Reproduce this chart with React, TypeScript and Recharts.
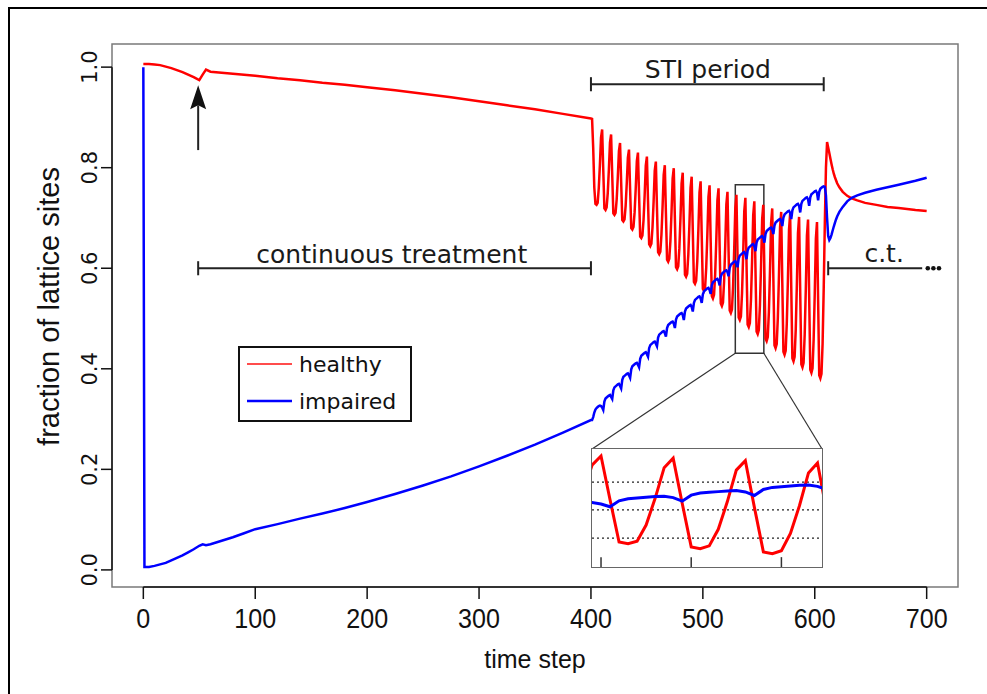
import React from 'react'
import { LineChart, Line, XAxis, YAxis, ReferenceLine, ReferenceArea, ReferenceDot, Legend } from 'recharts'

// continuous treatment phase, read at irregular time steps
const earlyTime = [0, 1, 5, 10, 15, 20, 25, 30, 35, 40, 45, 50, 53, 56, 60, 70, 80, 90, 100, 120, 140, 160, 180, 200, 225, 250, 275, 300, 325, 350, 375, 400]
const earlyHealthy = [1.006, 1.006, 1.006, 1.005, 1.004, 1.001, 0.998, 0.994, 0.99, 0.985, 0.98, 0.974, 0.985, 0.995, 0.991, 0.989, 0.987, 0.985, 0.983, 0.978, 0.974, 0.969, 0.965, 0.96, 0.954, 0.947, 0.94, 0.932, 0.924, 0.916, 0.907, 0.898]
const earlyImpaired = [1.0, 0.006, 0.006, 0.008, 0.011, 0.014, 0.019, 0.024, 0.029, 0.035, 0.041, 0.048, 0.051, 0.049, 0.051, 0.058, 0.065, 0.073, 0.081, 0.091, 0.102, 0.112, 0.123, 0.135, 0.151, 0.168, 0.186, 0.206, 0.227, 0.249, 0.273, 0.298]

// STI period, one value per time step from t = 401 to t = 620
const stiStart = 401
const stiHealthy = [
  0.897, 0.84, 0.76, 0.728, 0.726, 0.73, 0.76, 0.806, 0.86, 0.876,
  0.796, 0.719, 0.716, 0.721, 0.749, 0.796, 0.85, 0.866,
  0.786, 0.709, 0.706, 0.71, 0.737, 0.782, 0.833, 0.849,
  0.771, 0.696, 0.693, 0.697, 0.724, 0.769, 0.82, 0.836,
  0.757, 0.68, 0.677, 0.682, 0.711, 0.758, 0.813, 0.83,
  0.745, 0.663, 0.66, 0.665, 0.696, 0.746, 0.804, 0.822,
  0.733, 0.648, 0.644, 0.649, 0.681, 0.733, 0.794, 0.812,
  0.72, 0.632, 0.628, 0.633, 0.667, 0.722, 0.786, 0.805,
  0.709, 0.617, 0.613, 0.619, 0.654, 0.712, 0.779, 0.799,
  0.699, 0.602, 0.598, 0.604, 0.64, 0.7, 0.769, 0.79,
  0.687, 0.587, 0.583, 0.589, 0.627, 0.688, 0.76, 0.782,
  0.676, 0.573, 0.569, 0.575, 0.614, 0.677, 0.751, 0.773,
  0.664, 0.559, 0.555, 0.561, 0.601, 0.666, 0.742, 0.765,
  0.653, 0.545, 0.54, 0.547, 0.588, 0.656, 0.735, 0.759,
  0.642, 0.53, 0.525, 0.532, 0.575, 0.645, 0.727, 0.752,
  0.632, 0.516, 0.511, 0.518, 0.563, 0.636, 0.72, 0.746,
  0.622, 0.502, 0.497, 0.504, 0.55, 0.626, 0.713, 0.74,
  0.612, 0.488, 0.483, 0.491, 0.538, 0.616, 0.706, 0.733,
  0.601, 0.474, 0.469, 0.477, 0.526, 0.605, 0.698, 0.726,
  0.591, 0.46, 0.455, 0.463, 0.513, 0.595, 0.69, 0.719,
  0.58, 0.447, 0.441, 0.449, 0.501, 0.585, 0.682, 0.712,
  0.57, 0.434, 0.428, 0.436, 0.49, 0.576, 0.677, 0.708,
  0.562, 0.421, 0.415, 0.424, 0.478, 0.567, 0.67, 0.702,
  0.553, 0.409, 0.403, 0.412, 0.468, 0.559, 0.665, 0.697,
  0.545, 0.398, 0.392, 0.401, 0.458, 0.551, 0.659, 0.692,
  0.537, 0.387, 0.381, 0.39, 0.45, 0.56, 0.69, 0.8, 0.851,
  0.84, 0.829, 0.818, 0.807, 0.797, 0.788, 0.781, 0.775, 0.769,
]
const stiImpaired = [
  0.298, 0.304, 0.313, 0.319, 0.322, 0.324, 0.326, 0.327, 0.326, 0.323,
  0.318, 0.335, 0.341, 0.343, 0.345, 0.347, 0.348, 0.344,
  0.34, 0.357, 0.363, 0.365, 0.367, 0.369, 0.37, 0.366,
  0.361, 0.378, 0.384, 0.386, 0.388, 0.39, 0.391, 0.387,
  0.382, 0.399, 0.405, 0.407, 0.409, 0.411, 0.412, 0.408,
  0.403, 0.42, 0.426, 0.428, 0.43, 0.432, 0.433, 0.429,
  0.424, 0.441, 0.447, 0.449, 0.451, 0.453, 0.454, 0.45,
  0.445, 0.462, 0.468, 0.47, 0.472, 0.474, 0.475, 0.471,
  0.464, 0.481, 0.487, 0.489, 0.491, 0.493, 0.494, 0.49,
  0.481, 0.498, 0.504, 0.506, 0.508, 0.51, 0.511, 0.507,
  0.497, 0.514, 0.52, 0.522, 0.524, 0.526, 0.527, 0.523,
  0.514, 0.531, 0.537, 0.539, 0.541, 0.543, 0.544, 0.54,
  0.531, 0.548, 0.554, 0.556, 0.558, 0.56, 0.561, 0.557,
  0.549, 0.566, 0.572, 0.574, 0.576, 0.578, 0.579, 0.575,
  0.566, 0.583, 0.589, 0.591, 0.593, 0.595, 0.596, 0.592,
  0.584, 0.601, 0.607, 0.609, 0.611, 0.613, 0.614, 0.61,
  0.602, 0.619, 0.625, 0.627, 0.629, 0.631, 0.632, 0.628,
  0.618, 0.635, 0.641, 0.643, 0.645, 0.647, 0.648, 0.644,
  0.634, 0.651, 0.657, 0.659, 0.661, 0.663, 0.664, 0.66,
  0.651, 0.668, 0.674, 0.676, 0.678, 0.68, 0.681, 0.677,
  0.668, 0.685, 0.691, 0.693, 0.695, 0.697, 0.698, 0.694,
  0.684, 0.701, 0.707, 0.709, 0.711, 0.713, 0.714, 0.71,
  0.698, 0.715, 0.721, 0.723, 0.725, 0.727, 0.728, 0.724,
  0.711, 0.728, 0.734, 0.736, 0.738, 0.74, 0.741, 0.737,
  0.724, 0.741, 0.747, 0.749, 0.751, 0.753, 0.754, 0.75,
  0.735, 0.752, 0.758, 0.76, 0.762, 0.763, 0.762, 0.745, 0.7,
  0.664, 0.656, 0.66, 0.667, 0.675, 0.683, 0.69, 0.697, 0.703,
]

// back to continuous treatment
const lateTime = [622, 625, 629, 633, 638, 645, 655, 665, 675, 690, 700]
const lateHealthy = [0.761, 0.752, 0.744, 0.739, 0.735, 0.73, 0.726, 0.722, 0.72, 0.716, 0.714]
const lateImpaired = [0.712, 0.722, 0.733, 0.74, 0.745, 0.75, 0.756, 0.761, 0.766, 0.774, 0.78]

const xTicks = [0, 100, 200, 300, 400, 500, 600, 700]
const yTicks = [0, 0.2, 0.4, 0.6, 0.8, 1.0]
const insetTicks = [530, 540, 550]
const insetGuides = [0.672, 0.593, 0.513]

// annotations
const brackets = [
  { from: 49, to: 400, y: 0.6, caps: [49, 400] },
  { from: 400, to: 608, y: 0.966, caps: [400, 608] },
  { from: 612, to: 696, y: 0.6, caps: [612] },
]
const notes = [
  { text: 'continuous treatment', x: 222, y: 0.61 },
  { text: 'STI period', x: 504.5, y: 0.978 },
  { text: 'c.t.', x: 662, y: 0.612 },
]
const moreDots = [701, 706, 711]
const arrow = { x: 49, from: 0.835, to: 0.964 }

const X_DOMAIN: [number, number] = [-28, 728]
const Y_DOMAIN: [number, number] = [-0.034, 1.046]
const ZOOM_X: [number, number] = [529, 554.5]
const ZOOM_Y: [number, number] = [0.431, 0.766]
const INSET_BOX = { x1: 401, x2: 606.5, y2: 0.2405 }
const CAP = 0.014
const INSET_TICK = 0.028

const AXIS_FONT = '"Liberation Sans", Arial, sans-serif'
const NOTE_FONT = '"DejaVu Sans", Verdana, sans-serif'

const chartData = [
  ...earlyTime.map((t, i) => ({ t, healthy: earlyHealthy[i], impaired: earlyImpaired[i] })),
  ...stiHealthy.map((h, i) => ({ t: stiStart + i, healthy: h, impaired: stiImpaired[i] })),
  ...lateTime.map((t, i) => ({ t, healthy: lateHealthy[i], impaired: lateImpaired[i] })),
]
const insetData = chartData.filter(d => d.t >= 525 && d.t <= 558)

const XTick = ({ x, y, payload }: any) => (
  <g transform={`translate(${x} ${y + 29})`}>
    <text transform="scale(0.93 1)" textAnchor="middle" fontFamily={AXIS_FONT} fontSize={27} fill="#111">
      {payload.value}
    </text>
  </g>
)

const YTick = ({ x, y, payload }: any) => (
  <text x={x - 4} y={y} transform={`rotate(-90 ${x - 4} ${y})`} textAnchor="middle" fontFamily={NOTE_FONT} fontSize={21} fill="#111">
    {Number(payload.value).toFixed(1)}
  </text>
)

const noteShape = (text: string) => (p: any) => (
  <text x={p.cx} y={p.cy} textAnchor="middle" fontFamily={NOTE_FONT} fontSize={25} fill="#1a1a1a">{text}</text>
)

const arrowHead = (p: any) => (
  <path d={`M${p.cx},${p.cy} L${p.cx - 8},${p.cy + 24} L${p.cx},${p.cy + 20} L${p.cx + 8},${p.cy + 24} Z`} fill="#111" />
)

const LegendBox = ({ payload }: any) => (
  <div style={{ border: '2px solid #111', width: 174, height: 76, boxSizing: 'border-box', background: '#fff', fontFamily: NOTE_FONT, fontSize: 22, color: '#111' }}>
    {(payload || []).map((e: any, i: number) => (
      <div key={e.value} style={{ display: 'flex', alignItems: 'center', height: i === 0 ? 32 : 42, paddingLeft: 7 }}>
        <svg width={45} height={8}>
          <line x1={0} x2={45} y1={4} y2={4} stroke={e.color} strokeWidth={i === 0 ? 1.8 : 2.5} strokeOpacity={i === 0 ? 0.7 : 1} />
        </svg>
        <span style={{ marginLeft: 7 }}>{e.value}</span>
      </div>
    ))}
  </div>
)

export default function App() {
  return (
    <div style={{ position: 'absolute', left: 0, top: 0, width: 987, height: 694, overflow: 'hidden', background: '#fff' }}>
      <div style={{ position: 'absolute', left: 8, top: 7, width: 1200, height: 900, border: '2.5px solid #000' }} />
      <div style={{ position: 'absolute', left: 0, top: 0 }}>
        <LineChart width={987} height={694} data={chartData} margin={{ top: 44, right: 29, bottom: 47, left: 52 }}>
          <XAxis
            dataKey="t"
            type="number"
            domain={X_DOMAIN}
            allowDataOverflow
            ticks={xTicks}
            height={60}
            tickSize={12}
            tickMargin={0}
            axisLine={false}
            tickLine={{ stroke: '#111', strokeWidth: 1.5 }}
            tick={(p: any) => <XTick {...p} />}
            label={{
              content: (p: any) => (
                <text x={p.viewBox.x + p.viewBox.width / 2} y={p.viewBox.y + 81} textAnchor="middle" fontFamily={AXIS_FONT} fontSize={25} fill="#111">
                  time step
                </text>
              ),
            }}
          />
          <YAxis
            type="number"
            domain={Y_DOMAIN}
            allowDataOverflow
            ticks={yTicks}
            width={60}
            tickSize={11}
            tickMargin={0}
            axisLine={false}
            tickLine={{ stroke: '#111', strokeWidth: 1.5 }}
            tick={(p: any) => <YTick {...p} />}
            label={{
              content: (p: any) => {
                const cx = p.viewBox.x + 7
                const cy = p.viewBox.y + p.viewBox.height / 2 - 9
                return (
                  <text x={cx} y={cy} transform={`rotate(-90 ${cx} ${cy})`} textAnchor="middle" fontFamily={AXIS_FONT} fontSize={29} fill="#111">
                    fraction of lattice sites
                  </text>
                )
              },
            }}
          />
          <ReferenceArea x1={X_DOMAIN[0]} x2={X_DOMAIN[1]} y1={Y_DOMAIN[0]} y2={Y_DOMAIN[1]} fill="none" stroke="#7a7a7a" strokeWidth={1.5} ifOverflow="visible" />
          <ReferenceLine segment={[{ x: xTicks[0], y: Y_DOMAIN[0] }, { x: xTicks[xTicks.length - 1], y: Y_DOMAIN[0] }]} stroke="#111" strokeWidth={1.5} ifOverflow="visible" />
          <ReferenceLine segment={[{ x: X_DOMAIN[0], y: yTicks[0] }, { x: X_DOMAIN[0], y: yTicks[yTicks.length - 1] }]} stroke="#111" strokeWidth={1.5} ifOverflow="visible" />

          {brackets.map((b, i) => (
            <ReferenceLine key={`br${i}`} segment={[{ x: b.from, y: b.y }, { x: b.to, y: b.y }]} stroke="#222" strokeWidth={2} />
          ))}
          {brackets.flatMap((b, i) =>
            b.caps.map(c => (
              <ReferenceLine key={`cap${i}-${c}`} segment={[{ x: c, y: b.y - CAP }, { x: c, y: b.y + CAP }]} stroke="#222" strokeWidth={2} />
            ))
          )}
          {notes.map(n => (
            <ReferenceDot key={n.text} x={n.x} y={n.y} r={0} shape={noteShape(n.text)} />
          ))}
          {moreDots.map(d => (
            <ReferenceDot key={`dot${d}`} x={d} y={0.6} r={2.3} fill="#111" stroke="none" />
          ))}
          <ReferenceLine segment={[{ x: arrow.x, y: arrow.from }, { x: arrow.x, y: arrow.to - 0.04 }]} stroke="#222" strokeWidth={2} />
          <ReferenceDot x={arrow.x} y={arrow.to} r={0} shape={arrowHead} />

          <Line dataKey="healthy" name="healthy" stroke="#ff0000" strokeWidth={2.5} dot={false} isAnimationActive={false} />
          <Line dataKey="impaired" name="impaired" stroke="#0000ff" strokeWidth={2.5} dot={false} isAnimationActive={false} />

          <ReferenceArea x1={ZOOM_X[0]} x2={ZOOM_X[1]} y1={ZOOM_Y[0]} y2={ZOOM_Y[1]} fill="none" stroke="#333" strokeWidth={1.5} />
          <ReferenceLine segment={[{ x: ZOOM_X[0], y: ZOOM_Y[0] }, { x: INSET_BOX.x1, y: INSET_BOX.y2 }]} stroke="#333" strokeWidth={1.2} />
          <ReferenceLine segment={[{ x: ZOOM_X[1], y: ZOOM_Y[0] }, { x: INSET_BOX.x2, y: INSET_BOX.y2 }]} stroke="#333" strokeWidth={1.2} />

          <Legend layout="vertical" align="center" verticalAlign="middle" wrapperStyle={{ left: 238, top: 346, width: 174, height: 76 }} content={LegendBox} />
        </LineChart>
      </div>

      <div style={{ position: 'absolute', left: 591, top: 448, width: 232, height: 120, border: '1.5px solid #666', background: '#fff', boxSizing: 'border-box' }} />
      <div style={{ position: 'absolute', left: 592, top: 449 }}>
        <LineChart width={230} height={118} data={insetData} margin={{ top: 0, right: 0, bottom: 0, left: 0 }}>
          <XAxis dataKey="t" type="number" domain={ZOOM_X} allowDataOverflow hide />
          <YAxis type="number" domain={ZOOM_Y} allowDataOverflow hide />
          {insetGuides.map(v => (
            <ReferenceLine key={v} y={v} stroke="#222" strokeDasharray="2 3" strokeWidth={1.2} />
          ))}
          {insetTicks.map(t => (
            <ReferenceLine key={`it${t}`} segment={[{ x: t, y: ZOOM_Y[0] }, { x: t, y: ZOOM_Y[0] + INSET_TICK }]} stroke="#333" strokeWidth={1.5} />
          ))}
          <Line dataKey="healthy" stroke="#ff0000" strokeWidth={3} dot={false} isAnimationActive={false} />
          <Line dataKey="impaired" stroke="#0000ff" strokeWidth={3} dot={false} isAnimationActive={false} />
        </LineChart>
      </div>
    </div>
  )
}
